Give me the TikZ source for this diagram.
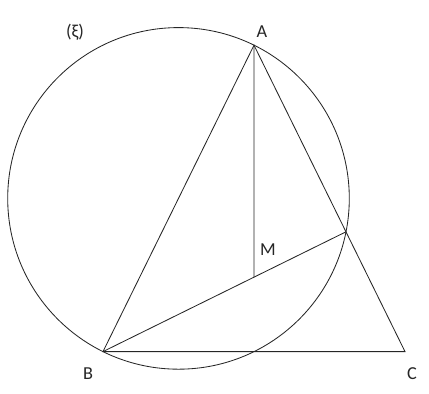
\documentclass[tikz,border=0pt]{standalone}
\usepackage{fontspec}
\setmainfont{Carlito}
\usetikzlibrary{calc}

\begin{document}
\begin{tikzpicture}[font=\fontsize{13}{15}\selectfont, line width=0.6pt,
  seg/.style={draw=black!85},
  lbl/.style={inner sep=1pt, text=black!85}]

\useasboundingbox (0,0) rectangle (10.725,9.85);

\coordinate (A) at (6.35,8.72);
\coordinate (B) at (2.575,1.06);
\coordinate (C) at (10.125,1.06);
\coordinate (O) at ($(A)!0.5!(B)$);
\coordinate (E) at ($(A)!(B)!(C)$);
\coordinate (D) at ($(B)!(A)!(C)$);
\coordinate (M) at (intersection of A--D and B--E);

\draw[seg] let \p1=($(A)-(O)$), \n1={veclen(\x1,\y1)} in (O) circle (\n1);
\draw[seg] (A) -- (B) -- (C) -- cycle;
\draw[seg] (A) -- (M);
\draw[seg] (B) -- (E);

\node[lbl] (xi) at (1.875,9.05) {(ξ)};
\node[lbl] (lA) at (6.55,9.05) {A};
\node[lbl] (lM) at (6.7,3.62) {M};
\node[lbl] (lB) at (2.2,0.5) {B};
\node[lbl] (lC) at (10.3,0.5) {C};
\end{tikzpicture}
\end{document}
